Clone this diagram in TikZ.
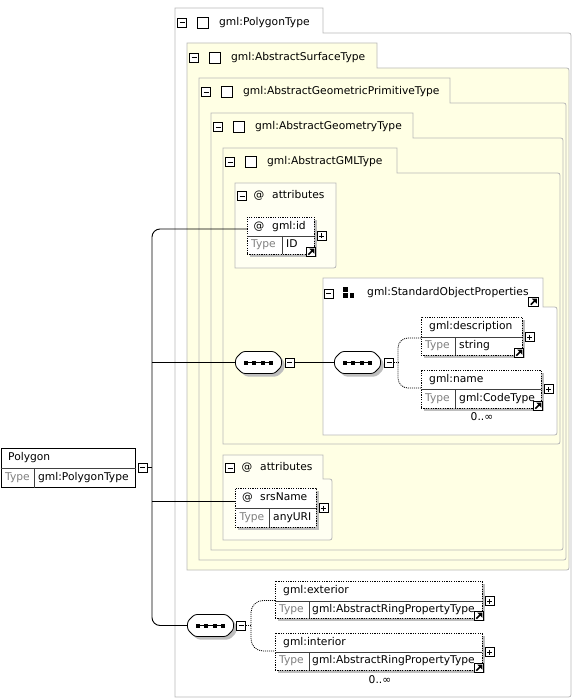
\documentclass[tikz,border=0pt]{standalone}
\usepackage{fontspec}
\setmainfont{DejaVu Sans}
\usetikzlibrary{shadows,calc}
\definecolor{boxline}{RGB}{185,185,185}
\definecolor{yfill}{RGB}{255,255,228}
\definecolor{afill}{RGB}{255,255,242}
\definecolor{shadowgray}{RGB}{190,190,190}
\definecolor{typegray}{RGB}{128,128,128}
\tikzset{
 lbl/.style={inner sep=0pt, text height=7.6pt, text depth=2.2pt, anchor=west},
 typelbl/.style={lbl, text=typegray},
 conn/.style={line width=0.9pt, draw=black},
 dotconn/.style={line width=0.8pt, draw=black, dash pattern=on 1pt off 1pt},
 divline/.style={line width=0.6pt, draw=black!75},
 tabline/.style={draw=boxline, line width=0.8pt},
 elemstyle/.style={draw=black, line width=0.8pt, dash pattern=on 1.2pt off 1.2pt, fill=white, anchor=north west, inner sep=0pt, outer sep=0pt, drop shadow={shadow xshift=3pt, shadow yshift=-3pt, fill=shadowgray, opacity=1}},
 pmbox/.style={draw=black, line width=0.6pt, fill=white, minimum size=9pt, inner sep=0pt},
 minusbox/.style={pmbox, path picture={\draw[black, line width=0.6pt] ([xshift=2pt]path picture bounding box.west) -- ([xshift=-2pt]path picture bounding box.east);}},
 plusbox/.style={pmbox, path picture={\draw[black, line width=0.6pt] ([xshift=2pt]path picture bounding box.west) -- ([xshift=-2pt]path picture bounding box.east) ([yshift=-2pt]path picture bounding box.north) -- ([yshift=2pt]path picture bounding box.south);}},
 ctype/.style={draw=black, line width=0.7pt, fill=white, minimum size=11pt, inner sep=0pt},
 linkicon/.style={draw=black, line width=0.9pt, fill=white, minimum size=9.5pt, inner sep=0pt, path picture={
   \draw[black, line width=1.7pt] ([shift={(2pt,2pt)}]path picture bounding box.south west) -- ([shift={(-3.2pt,-3.2pt)}]path picture bounding box.north east);
   \fill[black] ([shift={(-1.4pt,-1.4pt)}]path picture bounding box.north east) -- ++(-5pt,0pt) -- ++(5pt,-5pt) -- cycle;}},
 seqframe/.style={inner sep=0pt, outer sep=0pt, minimum width=46pt, minimum height=22pt},
}
\newcommand{\octpath}[1]{($(#1)+(-23,-4)$) -- ($(#1)+(-16,-11)$) -- ($(#1)+(16,-11)$) -- ($(#1)+(23,-4)$) -- ($(#1)+(23,4)$) -- ($(#1)+(16,11)$) -- ($(#1)+(-16,11)$) -- ($(#1)+(-23,4)$) -- cycle}
\newcommand{\seqnode}[3]{%
 \node[seqframe] (#1) at (#2,#3) {};
 \coordinate (#1sh) at ($(#1)+(3,3)$);
 \fill[shadowgray, rounded corners=2.5pt] \octpath{#1sh};
 \filldraw[fill=white, draw=black, line width=0.8pt, rounded corners=2.5pt] \octpath{#1};
 \draw[black, line width=1pt] ($(#1)+(-12.75,0)$) -- ($(#1)+(12.75,0)$);
 \foreach \dx in {-12.75,-4.25,4.25,12.75}{\fill[black] ($(#1)+(\dx-2,-2)$) rectangle ($(#1)+(\dx+2,2)$);}}
\newcommand{\tabbox}[7]{%
 \path[tabline, fill=#7] (#1,#2) -- (#3,#2) -- (#3,#4) -- ({#5-5},#4) .. controls (#5,#4) .. (#5,{#4+5}) -- (#5,{#6-5}) .. controls (#5,#6) .. ({#5-5},#6) -- (#1,#6) -- cycle;}
\newcommand{\typehead}[4]{%
 \node[minusbox] (#1m) at ({#2+7},#3) {};
 \node[ctype] (#1c) at ({#2+27.5},#3) {};
 \node[lbl] (#1t) at ({#2+44},#3) {#4};}
\newcommand{\attrhead}[3]{%
 \node[minusbox] (#1m) at ({#2+7},#3) {};
 \node[lbl, anchor=center] (#1at) at ({#2+24},#3) {@};
 \node[lbl] (#1t) at ({#2+37},#3) {attributes};}
\newcommand{\elembox}[7]{%
 \node[elemstyle, minimum width=#4pt, minimum height=#5pt] (#1) at (#2,#3) {};
 \draw[divline] ([yshift=-#6pt]#1.north west) -- ([yshift=-#6pt]#1.north east);
 \draw[divline] ([yshift=-#6pt, xshift=#7pt]#1.north west) -- ([xshift=#7pt]#1.south west);
 \node[plusbox] (#1P) at ([xshift=7.5pt, yshift=-#6pt]#1.north east) {};}
\begin{document}
\begin{tikzpicture}[x=1pt,y=-1pt,font=\fontsize{10.7}{13}\selectfont]
\useasboundingbox (0,0) rectangle (573,700);
% nested complex type boxes
\tabbox{175}{8}{323}{33}{571}{697}{white}
\tabbox{187}{43}{377}{68}{569}{570}{yfill}
\tabbox{199}{78}{450}{103}{566}{560}{yfill}
\tabbox{211}{113}{413}{138}{563}{550}{yfill}
\tabbox{223}{148}{397}{173}{560}{444}{yfill}
\typehead{pt}{175}{22.5}{gml:PolygonType}
\typehead{st}{187}{57.5}{gml:AbstractSurfaceType}
\typehead{gpt}{199}{92}{gml:AbstractGeometricPrimitiveType}
\typehead{gt}{211}{127}{gml:AbstractGeometryType}
\typehead{gmlt}{223}{162}{gml:AbstractGMLType}
% attributes 1
\path[tabline, fill=afill] (235,183) -- (336,183) -- (336,263) .. controls (336,268) .. (331,268) -- (235,268) -- cycle;
\attrhead{a1}{235}{196}
% standard object properties group
\tabbox{323}{278}{543}{307}{557}{435}{white}
\node[minusbox] (sopM) at (328.5,293.5) {};
\node[inner sep=0pt, minimum size=11pt] (sopI) at (348.5,292.5) {};
\fill (343,287) rectangle (347.5,291.5);
\fill (343,293) rectangle (347.5,297.5);
\fill (349.5,293) rectangle (354,297.5);
\node[lbl] (sopT) at (367,293) {gml:StandardObjectProperties};
\node[linkicon] (sopL) at (533.5,302) {};
% attributes 2
\tabbox{223}{455}{323}{479}{332}{540}{afill}
\attrhead{a2}{223}{468}
% root element
\node[draw=black, line width=1pt, fill=white, anchor=north west, minimum width=134pt, minimum height=39pt, inner sep=0pt] (poly) at (0.5,448) {};
\draw[divline] ([yshift=-20pt]poly.north west) -- ([yshift=-20pt]poly.north east);
\draw[divline] ([yshift=-20pt, xshift=33.5pt]poly.north west) -- ([xshift=33.5pt]poly.south west);
\node[lbl] (polyN) at (8,458) {Polygon};
\node[typelbl] (polyTy) at (5,477.5) {Type};
\node[lbl] (polyTv) at (38,477.5) {gml:PolygonType};
\node[minusbox] (polyM) at (142.5,467.5) {};
% element boxes
\elembox{gid}{247}{217}{67}{37}{19}{35}
\elembox{srs}{235}{488}{81}{39}{20}{34}
\elembox{desc}{421}{317}{101}{38}{20}{34}
\elembox{nm}{421}{370}{120}{38}{19}{34}
\elembox{ext}{275}{581}{207}{37}{20}{34}
\elembox{int}{275}{633}{207}{37}{19}{34}
% element texts
\node[lbl, anchor=center] (gidAt) at (259,226.5) {@};
\node[lbl] (gidN) at (272,226.5) {gml:id};
\node[typelbl] (gidTy) at (251,245) {Type};
\node[lbl] (gidTv) at (286,245) {ID};
\node[lbl, anchor=center] (srsAt) at (247.5,498) {@};
\node[lbl] (srsN) at (260,498) {srsName};
\node[typelbl] (srsTy) at (239.5,517.5) {Type};
\node[lbl] (srsTv) at (273,517.5) {anyURI};
\node[lbl] (descN) at (429,327) {gml:description};
\node[typelbl] (descTy) at (425,346) {Type};
\node[lbl] (descTv) at (459,346) {string};
\node[lbl] (nmN) at (429,379.5) {gml:name};
\node[typelbl] (nmTy) at (425,398.5) {Type};
\node[lbl] (nmTv) at (459,398.5) {gml:CodeType};
\node[lbl] (extN) at (283,591) {gml:exterior};
\node[typelbl] (extTy) at (279,609.5) {Type};
\node[lbl] (extTv) at (312,609.5) {gml:AbstractRingPropertyType};
\node[lbl] (intN) at (283,642.5) {gml:interior};
\node[typelbl] (intTy) at (279,661) {Type};
\node[lbl] (intTv) at (312,661) {gml:AbstractRingPropertyType};
% link icons
\node[linkicon] (gidL) at ([xshift=-3pt, yshift=2pt]gid.south east) {};
\node[linkicon] (descL) at ([xshift=-3pt, yshift=2pt]desc.south east) {};
\node[linkicon] (nmL) at ([xshift=-3pt, yshift=2pt]nm.south east) {};
\node[linkicon] (extL) at ([xshift=-3pt, yshift=2pt]ext.south east) {};
\node[linkicon] (intL) at ([xshift=-3pt, yshift=2pt]int.south east) {};
% occurrences
\node[lbl, anchor=center] (occ1) at (482,418) {0..∞};
\node[lbl, anchor=center] (occ2) at (380,681) {0..∞};
% sequence compositors
\seqnode{seq1}{258.5}{362.5}
\node[minusbox] (seq1m) at (289.5,362.5) {};
\seqnode{seq2}{357.5}{362.5}
\node[minusbox] (seq2m) at (389,362.5) {};
\seqnode{seq3}{210.5}{625.5}
\node[minusbox] (seq3m) at (241,625.5) {};
% connectors
\coordinate (gidIn) at ([yshift=-12pt]gid.north west);
\coordinate (srsIn) at ([yshift=-13pt]srs.north west);
\coordinate (tTop) at (152,229);
\coordinate (tBot) at (tTop |- seq3.west);
\draw[conn, rounded corners=8pt] (gidIn) -- (tTop) -- (tBot) -- (seq3.west);
\draw[conn] (seq1.west -| tTop) -- (seq1.west);
\draw[conn] (srsIn -| tTop) -- (srsIn);
\draw[conn] (polyM.east) -- (polyM.east -| tTop);
\draw[conn] (seq1m.east) -- (seq2.west);
\coordinate (b2) at (398,362.5);
\coordinate (descIn) at ([yshift=-21pt]desc.north west);
\coordinate (nmIn) at ([yshift=-18pt]nm.north west);
\draw[dotconn] (seq2m.east) -- (b2);
\draw[dotconn, rounded corners=10pt] (descIn) -| (b2) |- (nmIn);
\coordinate (b3) at (251,625.5);
\coordinate (extIn) at ([yshift=-19.5pt]ext.north west);
\coordinate (intIn) at ([yshift=-18pt]int.north west);
\draw[dotconn] (seq3m.east) -- (b3);
\draw[dotconn, rounded corners=12pt] (extIn) -| (b3) |- (intIn);
\end{tikzpicture}
\end{document}
